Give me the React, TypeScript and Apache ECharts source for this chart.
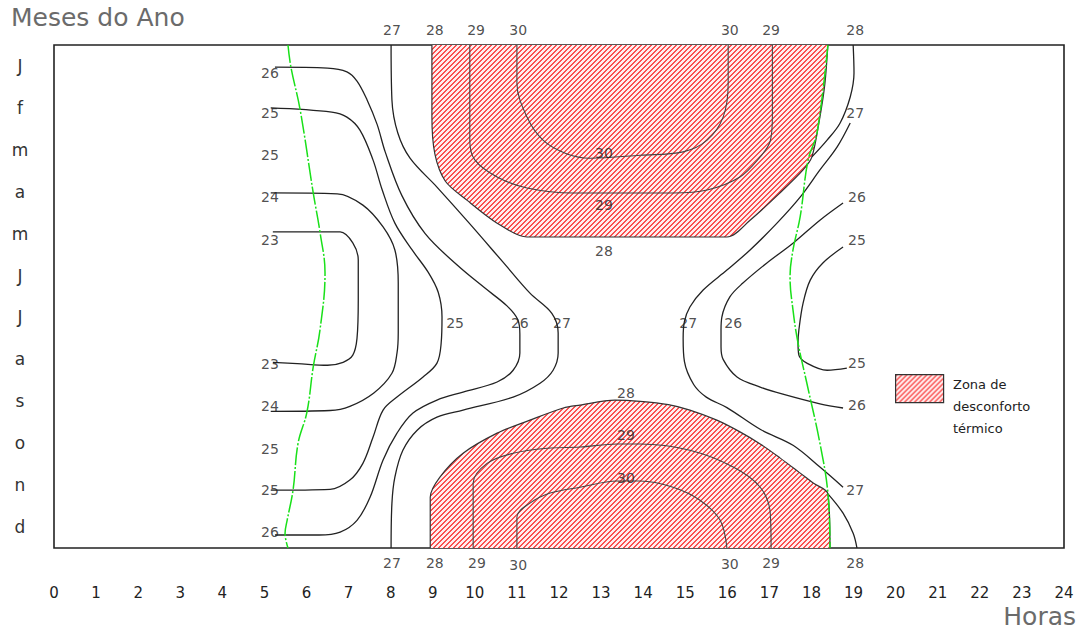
import React, { useEffect, useRef } from "react";
import * as echarts from "echarts";

// ---- categories / ticks ----
const months = ["J", "f", "m", "a", "m", "J", "J", "a", "s", "o", "n", "d"];
const hourMin = 0;
const hourMax = 24;

// ---- isopleths: [hour, month position (0 = top of Jan, 12 = bottom of Dec)] ----
const iso23 = [[5.2, 4.46], [6.8, 4.46], [7.1, 4.72], [7.23, 5.13], [7.23, 6.09], [7.2, 7.0], [7.1, 7.4], [6.87, 7.57], [6.5, 7.64], [5.78, 7.6], [5.2, 7.57]];
const iso24 = [[5.15, 3.53], [6.73, 3.55], [7.34, 3.82], [7.82, 4.34], [8.1, 4.89], [8.18, 5.68], [8.18, 6.87], [8.15, 7.35], [8.03, 7.83], [7.6, 8.3], [7.03, 8.62], [6.56, 8.72], [5.15, 8.74]];
const iso25 = [[5.15, 1.5], [6.6, 1.6], [6.96, 1.72], [7.27, 2.03], [7.58, 2.74], [7.8, 3.46], [8.1, 4.25], [8.51, 4.89], [8.89, 5.42], [9.13, 5.9], [9.22, 6.49], [9.2, 7.11], [9.1, 7.59], [8.77, 7.92], [8.15, 8.4], [7.82, 8.71], [7.58, 9.36], [7.34, 9.98], [7.03, 10.38], [6.56, 10.6], [5.15, 10.62]];
const iso26 = [[5.25, 0.53], [6.5, 0.55], [6.96, 0.64], [7.2, 0.86], [7.44, 1.31], [7.68, 1.9], [7.87, 2.55], [8.27, 3.6], [8.82, 4.5], [9.58, 5.25], [10.24, 5.8], [10.77, 6.23], [11.02, 6.55], [11.07, 6.9], [11.07, 7.35], [10.91, 7.76], [10.53, 8.04], [9.72, 8.28], [9.1, 8.47], [8.53, 8.78], [8.15, 9.26], [7.82, 9.9], [7.51, 10.79], [7.2, 11.34], [6.8, 11.62], [6.3, 11.69], [5.25, 11.69]];
const iso27Left = [[8.01, 0], [8.03, 1.31], [8.17, 2.1], [8.46, 2.7], [9.1, 3.39], [9.84, 4.22], [10.67, 5.18], [11.31, 5.92], [11.83, 6.4], [11.98, 6.87], [11.98, 7.35], [11.86, 7.76], [11.55, 8.07], [10.91, 8.4], [9.72, 8.71], [9.1, 8.88], [8.63, 9.19], [8.29, 9.67], [8.1, 10.31], [8.03, 10.93], [8.01, 12]];
const iso27Right = [[18.92, 1.86], [18.61, 2.43], [18.2, 2.98], [17.73, 3.63], [17.18, 4.25], [16.54, 4.89], [15.99, 5.37], [15.42, 5.85], [15.11, 6.25], [14.98, 6.6], [14.95, 7.0], [14.98, 7.55], [15.2, 8.1], [15.5, 8.4], [15.99, 8.65], [16.8, 9.18], [17.56, 9.55], [18.2, 10.07], [18.75, 10.55]];
const iso26Right = [[18.75, 3.77], [18.2, 4.18], [17.56, 4.73], [16.94, 5.2], [16.37, 5.68], [16.06, 6.01], [15.87, 6.49], [15.85, 6.8], [15.85, 7.2], [15.9, 7.5], [16.23, 7.92], [16.78, 8.16], [17.32, 8.33], [18.2, 8.56], [18.75, 8.66]];
const iso25Right = [[18.75, 4.82], [18.27, 5.2], [17.97, 5.61], [17.8, 6.16], [17.7, 6.8], [17.68, 7.11], [17.7, 7.4], [17.89, 7.59], [18.37, 7.76], [18.84, 7.71]];
const iso28RightTop = [[18.99, 0], [19.01, 0.67], [18.92, 1.24], [18.68, 1.86], [18.37, 2.27], [18.01, 2.67]];
const iso28RightBottom = [[18.39, 10.71], [18.75, 11.17], [18.99, 11.65], [19.08, 12]];
const iso29Top = [[9.88, 0], [9.88, 2.27], [10.0, 2.74], [10.53, 3.15], [11.24, 3.41], [12.33, 3.53], [14.71, 3.53], [15.52, 3.46], [16.3, 3.15], [16.78, 2.67], [17.02, 2.29], [17.07, 1.72], [17.07, 0]];
const iso30Top = [[11.0, 0], [11.0, 0.91], [11.24, 1.72], [11.62, 2.27], [12.19, 2.6], [12.74, 2.7], [13.93, 2.63], [14.95, 2.55], [15.52, 2.27], [15.9, 1.72], [16.02, 0.91], [16.02, 0]];
const iso29Bottom = [[9.96, 12], [9.96, 10.45], [10.29, 9.98], [10.91, 9.74], [11.72, 9.62], [12.5, 9.59], [13.38, 9.52], [13.93, 9.52], [15.11, 9.67], [16.14, 10.07], [16.78, 10.55], [17.02, 11.17], [17.04, 12]];
const iso30Bottom = [[11.0, 12], [11.0, 11.26], [11.31, 10.93], [11.79, 10.69], [12.5, 10.55], [13.38, 10.4], [13.93, 10.4], [14.71, 10.55], [15.35, 10.86], [15.83, 11.34], [15.99, 12]];

// ---- thermal discomfort zones (28 °C boundary) ----
const zoneTop = [[8.98, 0], [8.98, 1.7], [9.05, 2.6], [9.3, 3.25], [9.81, 3.7], [10.53, 4.25], [11.24, 4.58], [15.99, 4.58], [16.54, 4.18], [17.25, 3.53], [17.8, 2.98], [18.01, 2.67], [18.2, 1.72], [18.32, 0.91], [18.39, 0]];
const zoneBottom = [[8.94, 12], [8.94, 10.79], [9.17, 10.31], [9.72, 9.74], [10.53, 9.26], [11.31, 8.95], [12.1, 8.66], [12.5, 8.59], [13.33, 8.47], [13.93, 8.5], [14.6, 8.58], [15.11, 8.71], [15.75, 8.95], [16.3, 9.23], [16.8, 9.53], [17.25, 9.85], [17.7, 10.19], [18.04, 10.45], [18.39, 10.71], [18.44, 12]];

// ---- sunrise / sunset ----
const sunrise = [[5.56, 0], [5.63, 0.53], [5.85, 1.55], [6.16, 3.53], [6.32, 4.46], [6.44, 5.44], [6.32, 6.8], [6.16, 7.68], [6.01, 8.76], [5.8, 9.5], [5.68, 10.62], [5.54, 11.34], [5.49, 11.65], [5.56, 12]];
const sunset = [[18.39, 0], [18.13, 2.1], [17.92, 2.74], [17.73, 4.1], [17.56, 4.89], [17.49, 5.54], [17.56, 6.32], [17.68, 7.11], [17.89, 8.07], [18.2, 9.5], [18.39, 10.69], [18.44, 12]];

// ---- isopleth value labels [hour, month position, text] ----
const isoLabels: [number, number, string][] = [
  [8.03, -0.36, "27"], [9.05, -0.36, "28"], [10.03, -0.36, "29"], [11.03, -0.36, "30"],
  [16.06, -0.36, "30"], [17.04, -0.36, "29"], [19.04, -0.36, "28"],
  [8.03, 12.36, "27"], [9.05, 12.36, "28"], [10.05, 12.36, "29"], [11.03, 12.41, "30"],
  [16.06, 12.38, "30"], [17.04, 12.36, "29"], [19.04, 12.36, "28"],
  [5.13, 0.67, "26"], [5.13, 1.62, "25"], [5.13, 2.63, "25"], [5.13, 3.63, "24"], [5.13, 4.65, "23"],
  [5.13, 7.61, "23"], [5.13, 8.62, "24"], [5.13, 9.64, "25"], [5.13, 10.62, "25"], [5.13, 11.62, "26"],
  [9.53, 6.63, "25"], [11.07, 6.63, "26"], [12.07, 6.63, "27"], [15.07, 6.63, "27"], [16.14, 6.63, "26"],
  [19.04, 1.62, "27"], [19.08, 3.63, "26"], [19.08, 4.65, "25"], [19.08, 7.59, "25"], [19.08, 8.59, "26"], [19.04, 10.62, "27"],
  [13.07, 2.58, "30"], [13.07, 3.82, "29"], [13.07, 4.92, "28"],
  [13.59, 8.31, "28"], [13.59, 9.31, "29"], [13.59, 10.33, "30"],
];

const FONT = "'DejaVu Sans', 'Liberation Sans', sans-serif";

function makeHatch(): HTMLCanvasElement {
  const s = 5;
  const c = document.createElement("canvas");
  c.width = s;
  c.height = s;
  const ctx = c.getContext("2d")!;
  const img = ctx.createImageData(s, s);
  for (let y = 0; y < s; y++) {
    for (let x = 0; x < s; x++) {
      const i = (y * s + x) * 4;
      const k = (x + y) % s;
      const on = k < 2;
      img.data[i] = on ? 250 : 255;
      img.data[i + 1] = on ? 80 : 238;
      img.data[i + 2] = on ? 80 : 238;
      img.data[i + 3] = 255;
    }
  }
  ctx.putImageData(img, 0, 0);
  return c;
}

export default function App() {
  const ref = useRef<HTMLDivElement>(null);

  useEffect(() => {
    if (!ref.current) return;
    const chart = echarts.init(ref.current, null, { renderer: "svg" });
    const hatch = makeHatch();
    const pattern: any = { image: hatch, repeat: "repeat", imageWidth: 5, imageHeight: 5 };

    const contour = (data: number[][], color = "#222", width = 1.3) => ({
      type: "line",
      data,
      smooth: 0.35,
      symbol: "none",
      showSymbol: false,
      silent: true,
      z: 3,
      lineStyle: { color, width },
    });

    const zone = (data: number[][], origin: string) => ({
      type: "line",
      data,
      smooth: 0.3,
      symbol: "none",
      showSymbol: false,
      silent: true,
      z: 1,
      lineStyle: { color: "#333", width: 1.2 },
      areaStyle: { color: pattern, opacity: 1, origin },
    });

    const sun = (data: number[][]) => ({
      type: "line",
      data,
      smooth: 0.4,
      symbol: "none",
      showSymbol: false,
      silent: true,
      z: 4,
      lineStyle: { color: "#19e019", width: 1.5, type: [18, 2, 2, 2] },
    });

    chart.setOption({
      animation: false,
      backgroundColor: "#ffffff",
      grid: {
        left: 54,
        right: 23,
        top: 45,
        bottom: 86,
        show: true,
        borderColor: "#222",
        borderWidth: 1.6,
        backgroundColor: "transparent",
      },
      xAxis: {
        type: "value",
        min: hourMin,
        max: hourMax,
        interval: 1,
        axisLine: { show: false },
        axisTick: { show: false },
        splitLine: { show: false },
        axisLabel: { margin: 37, fontSize: 15, color: "#222", fontFamily: FONT },
      },
      yAxis: [
        {
          type: "value",
          min: 0,
          max: 12,
          inverse: true,
          show: false,
        },
        {
          type: "category",
          data: months,
          inverse: true,
          position: "left",
          axisLine: { show: false },
          axisTick: { show: false },
          splitLine: { show: false },
          axisLabel: { margin: 34, align: "center", fontSize: 17, color: "#333", fontFamily: FONT },
        },
      ],
      graphic: [
        {
          type: "text",
          left: 11,
          top: 5,
          style: { text: "Meses do Ano", fontSize: 25, fill: "#6b6b6b", fontFamily: FONT },
        },
        {
          type: "text",
          right: 11,
          top: 604,
          style: { text: "Horas", fontSize: 25, fill: "#6b6b6b", fontFamily: FONT },
        },
        {
          type: "rect",
          left: 895,
          top: 374,
          shape: { width: 48, height: 28 },
          style: { fill: pattern, stroke: "#333", lineWidth: 1.2 },
          z: 10,
        },
        {
          type: "text",
          left: 953,
          top: 373,
          style: {
            text: "Zona de\ndesconforto\ntérmico",
            fontSize: 13,
            lineHeight: 22,
            fill: "#222",
            fontFamily: FONT,
          },
          z: 10,
        },
      ],
      series: [
        zone(zoneTop, "start"),
        zone(zoneBottom, "end"),
        contour(iso23),
        contour(iso24),
        contour(iso25),
        contour(iso26),
        contour(iso27Left),
        contour(iso27Right),
        contour(iso26Right),
        contour(iso25Right),
        contour(iso28RightTop),
        contour(iso28RightBottom),
        contour(iso29Top, "#444", 1.1),
        contour(iso30Top, "#444", 1.1),
        contour(iso29Bottom, "#444", 1.1),
        contour(iso30Bottom, "#444", 1.1),
        sun(sunrise),
        sun(sunset),
        {
          type: "scatter",
          data: isoLabels.map((d) => [d[0], d[1], d[2]]),
          symbolSize: 1,
          clip: false,
          silent: true,
          z: 5,
          itemStyle: { color: "rgba(0,0,0,0)" },
          label: {
            show: true,
            position: "inside",
            formatter: (p: any) => p.value[2],
            fontSize: 14,
            color: "#222",
            fontFamily: FONT,
          },
        },
      ],
    });

    return () => chart.dispose();
  }, []);

  return (
    <div
      ref={ref}
      style={{ position: "absolute", left: 0, top: 0, width: 1087, height: 634 }}
    />
  );
}
